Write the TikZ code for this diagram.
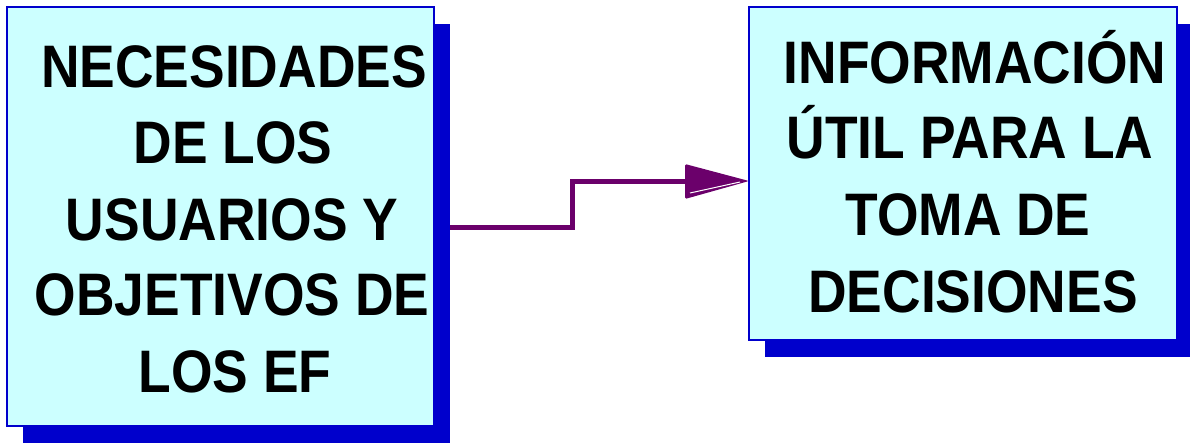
\documentclass[tikz,border=0pt]{standalone}
\usepackage{fontspec}
\newfontfamily\bigfont{Liberation Sans}[FakeStretch=0.89]
\usetikzlibrary{shadows}
\definecolor{boxfill}{RGB}{204,255,255}
\definecolor{boxblue}{RGB}{0,0,204}
\definecolor{connpurple}{RGB}{107,0,107}
\pgfdeclarelayer{background}
\pgfsetlayers{background,main}
\tikzset{
  box/.style={draw=boxblue, line width=2pt, fill=boxfill, rectangle, inner sep=0pt, outer sep=0pt,
    general shadow={fill=boxblue, shadow xshift=16pt, shadow yshift=-17pt}},
  lbl/.style={anchor=base, inner sep=0pt, font=\bigfont\bfseries\fontsize{60}{72}\selectfont, text=black},
  conn/.style={draw=connpurple, line width=5pt},
}
\begin{document}
\begin{tikzpicture}[x=1pt,y=-1pt]
\useasboundingbox (0,0) rectangle (1190,444);
\node[box, minimum width=427pt, minimum height=419pt] (lbox) at (220.5,216.5) {};
\node[box, minimum width=428pt, minimum height=333pt] (rbox) at (963,173.5) {};
% left text
\node[lbl] (l1) at (234,87) {NECESIDADES};
\node[lbl] (l2) at (233,163) {DE LOS};
\node[lbl] (l3) at (232,240) {USUARIOS Y};
\node[lbl] (l4) at (232,315) {OBJETIVOS DE};
\node[lbl] (l5) at (235,392) {LOS EF};
% right text
\node[lbl] (r1) at (975,83) {INFORMACIÓN};
\node[lbl] (r2) at (970,158) {ÚTIL PARA LA};
\node[lbl] (r3) at (968,235) {TOMA DE};
\node[lbl] (r4) at (973,312) {DECISIONES};
% connector
\coordinate (start) at ([yshift=-10.5pt]lbox.east);
\coordinate (bend) at (572,181);
\coordinate (tip) at ([yshift=-7.5pt]rbox.west);
\begin{pgfonlayer}{background}
\draw[conn] (start) -| (bend) -- ([xshift=-60pt]tip);
\end{pgfonlayer}
\fill[connpurple, rounded corners=1.5pt] (tip) -- ++(-64,-17) -- ++(0,35) -- cycle;
\draw[white, line width=1pt] ([shift={(-59,12)}]tip) -- ([shift={(-9,1)}]tip);
\end{tikzpicture}
\end{document}
